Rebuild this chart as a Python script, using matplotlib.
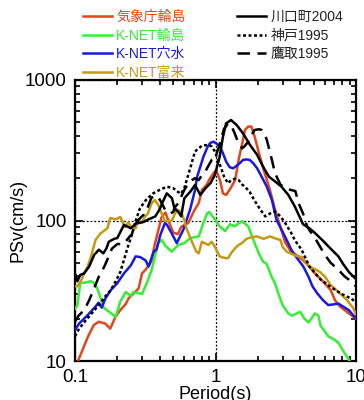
import matplotlib
matplotlib.use("Agg")
import matplotlib.pyplot as plt
from matplotlib.ticker import LogLocator, FuncFormatter, NullFormatter

plt.rcParams['font.family'] = ['Liberation Sans', 'Noto Sans CJK JP', 'DejaVu Sans']

# ---- data (period in s, PSv in cm/s) ----
T_jma = [0.105, 0.124, 0.136, 0.147, 0.164, 0.178, 0.194, 0.21, 0.23, 0.241,
         0.26, 0.284, 0.3, 0.32, 0.35, 0.37, 0.414, 0.44, 0.46, 0.5,
         0.54, 0.57, 0.64, 0.7, 0.76, 0.8, 0.86, 0.91, 0.97, 1.01,
         1.076, 1.13, 1.19, 1.26, 1.38, 1.46, 1.55, 1.62, 1.71, 1.8,
         1.9, 2.04, 2.2, 2.44, 2.65, 2.9, 3.13, 3.45, 3.75, 4.22,
         4.66, 5.1, 5.8, 6.6, 7.1, 7.7, 8.6, 10.0]
V_jma = [10, 15, 18, 19, 18.5, 17, 20.6, 23, 25.5, 28,
         30, 33, 42, 45, 51, 68, 106, 114, 101, 82,
         80, 90, 96, 116, 133, 165, 178, 198, 217, 229,
         194, 156, 152, 165, 194, 270, 354, 441, 466, 466,
         395, 301, 230, 165, 120, 90, 70, 60, 57, 52,
         47, 42, 37, 32, 27, 24.4, 22.4, 20]

T_knet_wajima = [0.1, 0.104, 0.109, 0.116, 0.13, 0.136, 0.144, 0.16, 0.174, 0.195,
                 0.21, 0.23, 0.25, 0.26, 0.3, 0.325, 0.35, 0.37, 0.39, 0.414,
                 0.44, 0.488, 0.544, 0.6, 0.66, 0.76, 0.82, 0.87, 0.9, 0.99,
                 1.07, 1.17, 1.27, 1.37, 1.54, 1.71, 1.9, 2.04, 2.18, 2.32,
                 2.5, 2.65, 2.8, 3.0, 3.3, 3.5, 4.0, 4.3, 4.6, 5.1,
                 5.4, 5.6, 6.35, 7.0, 7.5, 8.1, 8.7, 9.0]
V_knet_wajima = [23.5, 25, 36, 36, 37, 36, 33, 24, 22.5, 20.6,
                 26.5, 31, 29, 31, 30, 36, 44, 55, 68.6, 72.7,
                 66, 60, 67, 69, 75, 77, 96, 112, 115, 102,
                 91, 84, 94, 91, 99, 91, 69, 58, 51, 49,
                 40, 35.8, 30.3, 25, 21.8, 21, 22.4, 20, 18.8, 21.8,
                 21, 17.8, 15, 14.2, 13.5, 11.8, 10.6, 10]

T_anamizu = [0.1, 0.107, 0.116, 0.122, 0.14, 0.147, 0.155, 0.165, 0.18, 0.2,
             0.223, 0.25, 0.27, 0.29, 0.318, 0.334, 0.363, 0.38, 0.405, 0.437,
             0.452, 0.488, 0.53, 0.59, 0.66, 0.715, 0.74, 0.78, 0.82, 0.88,
             0.92, 0.97, 1.01, 1.076, 1.13, 1.19, 1.26, 1.33, 1.415, 1.5,
             1.57, 1.66, 1.75, 1.86, 1.98, 2.13, 2.32, 2.52, 2.72, 2.95,
             3.21, 3.47, 3.75, 4.22, 4.58, 4.9, 5.3, 5.8, 6.35, 6.9,
             7.5, 8.1, 8.9, 9.8]
V_anamizu = [16.6, 18.5, 20, 21, 24.4, 26, 24, 28, 32, 35.8,
             42, 48, 55.5, 55, 52, 47, 60, 62, 79, 96,
             93, 81, 69, 86, 120, 165, 205, 242, 284, 336,
             357, 364, 354, 336, 301, 263, 240, 235, 245, 258,
             270, 272, 270, 255, 235, 205, 174, 140, 101, 86,
             72.7, 61.7, 55, 47, 40, 34, 30.3, 27.2, 25, 25.3,
             25.6, 24.4, 23, 20.5]

T_togi = [0.1, 0.104, 0.111, 0.116, 0.123, 0.129, 0.14, 0.152, 0.17, 0.178,
          0.195, 0.21, 0.227, 0.24, 0.25, 0.27, 0.28, 0.3, 0.315, 0.33,
          0.35, 0.37, 0.39, 0.414, 0.437, 0.46, 0.49, 0.53, 0.57, 0.6,
          0.62, 0.68, 0.73, 0.76, 0.8, 0.89, 0.94, 0.99, 1.07, 1.17,
          1.23, 1.29, 1.37, 1.46, 1.54, 1.66, 1.8, 1.98, 2.2, 2.44,
          2.72, 2.9, 3.0, 3.21, 3.47, 3.75, 4.1, 4.45, 4.66, 5.1,
          5.54, 6.0, 6.55, 7.0, 7.9, 8.6, 9.5, 10.0]
V_togi = [34, 34, 37.7, 42, 47, 54, 72.7, 81, 88, 104,
          102, 106, 90, 97, 90, 88, 100, 96, 107, 112,
          132, 140, 130, 112, 99, 99, 100, 120, 115, 100,
          88, 70.6, 60, 58.4, 70.6, 67, 70.6, 65, 55.5, 54,
          54, 58.4, 63, 67, 69, 74, 76, 77, 74, 77,
          74, 72.7, 65, 60, 58, 56, 55, 50, 47, 45,
          43, 40, 35, 33, 29.5, 27.2, 24, 21.5]

T_kawaguchi = [0.1, 0.104, 0.109, 0.116, 0.126, 0.137, 0.148, 0.159, 0.167, 0.174,
               0.19, 0.2, 0.223, 0.25, 0.27, 0.285, 0.31, 0.334, 0.35, 0.373,
               0.4, 0.416, 0.45, 0.49, 0.51, 0.54, 0.57, 0.6, 0.66, 0.715,
               0.78, 0.85, 0.92, 0.99, 1.07, 1.13, 1.19, 1.29, 1.415, 1.57,
               1.76, 1.98, 2.18, 2.4, 2.65, 2.95, 3.3, 3.68, 4.2, 4.66,
               5.0, 5.8, 6.6, 7.5, 8.1, 8.9, 9.8, 10.0]
V_kawaguchi = [42, 37, 41, 42, 47, 57, 62, 58.4, 63, 70.6,
               74, 75, 93, 88, 95, 96, 98, 102, 104, 107,
               120, 132, 156, 144, 122, 116, 107, 144, 160, 179,
               152, 170, 184, 211, 284, 395, 491, 519, 478, 417,
               345, 293, 242, 205, 190, 174, 152, 125, 94, 88,
               83, 72, 63, 55.5, 49, 43, 39, 38.5]

T_kobe = [0.1, 0.107, 0.122, 0.135, 0.152, 0.165, 0.18, 0.195, 0.21, 0.22,
          0.236, 0.256, 0.27, 0.29, 0.32, 0.36, 0.4, 0.45, 0.5, 0.54,
          0.57, 0.6, 0.62, 0.66, 0.715, 0.76, 0.8, 0.86, 0.9, 0.94,
          0.99, 1.04, 1.1, 1.15, 1.23, 1.29, 1.37, 1.46, 1.55, 1.62,
          1.75, 1.9, 2.08, 2.26, 2.44, 2.65, 2.9, 3.13, 3.45, 3.68,
          4.1, 4.66, 5.6, 6.5, 7.5, 8.4, 9.2, 10.0]
V_kobe = [15, 17, 20, 22.5, 26, 29, 32, 37, 43, 50,
          63.5, 81, 99, 122, 140, 156, 165, 174, 170, 160,
          155, 170, 190, 235, 310, 326, 341, 344, 344, 336,
          310, 270, 235, 205, 184, 194, 198, 194, 180, 174,
          160, 138, 120, 107, 112, 116, 107, 96, 82, 72,
          62, 47, 38, 34, 31, 29, 28, 26]

T_takatori = [0.1, 0.106, 0.116, 0.126, 0.137, 0.148, 0.16, 0.169, 0.183, 0.2,
              0.222, 0.24, 0.254, 0.262, 0.28, 0.308, 0.33, 0.35, 0.37, 0.39,
              0.414, 0.44, 0.475, 0.5, 0.51, 0.544, 0.57, 0.6, 0.64, 0.68,
              0.715, 0.76, 0.8, 0.86, 0.9, 0.94, 0.99, 1.04, 1.1, 1.15,
              1.23, 1.29, 1.37, 1.46, 1.55, 1.62, 1.71, 1.8, 1.9, 2.04,
              2.13, 2.26, 2.32, 2.52, 2.65, 2.9, 3.2, 3.7, 3.9, 4.2,
              4.5, 5.2, 6.0, 6.6, 7.5, 8.3, 9.2, 10.0]
V_takatori = [19, 21, 23, 27, 33, 40, 46, 52, 63, 68,
              68, 75, 80, 88, 100, 110, 125, 145, 150, 148,
              133, 118, 112, 115, 123, 133, 148, 165, 184, 194,
              200, 194, 210, 230, 250, 270, 278, 318, 384, 450,
              490, 478, 417, 354, 326, 340, 364, 406, 441, 446,
              441, 400, 374, 270, 217, 180, 168, 162, 133, 112,
              90, 72.7, 57, 50, 44.5, 40, 37, 34]

labels_left = ['気象庁輪島', 'K-NET輪島', 'K-NET穴水', 'K-NET富来']
labels_right = ['川口町2004', '神戸1995', '鷹取1995']
colors_left = ['#e2461c', '#33ee33', '#1818e0', '#c49a14']

xticks = [0.1, 1, 10]
yticks = [10, 100, 1000]

# ---- figure ----
fig = plt.figure(figsize=(3.64, 4.0), dpi=100)
ax = fig.add_axes([75 / 364, 39 / 400, 281 / 364, 281 / 400])
ax.set_xscale('log')
ax.set_yscale('log')
ax.set_xlim(0.1, 10)
ax.set_ylim(10, 1000)

lw = 1.8
series_left = [(T_jma, V_jma), (T_knet_wajima, V_knet_wajima),
               (T_anamizu, V_anamizu), (T_togi, V_togi)]
handles_left = []
for (t, v), c, lab in zip(series_left, colors_left, labels_left):
    h, = ax.plot(t, v, color=c, lw=lw, label=lab, zorder=3)
    handles_left.append(h)

styles_right = ['-', (0, (1.2, 1.0)), (0, (5, 3))]
series_right = [(T_kawaguchi, V_kawaguchi), (T_kobe, V_kobe), (T_takatori, V_takatori)]
handles_right = []
for (t, v), ls, lab in zip(series_right, styles_right, labels_right):
    h, = ax.plot(t, v, color='black', lw=lw, ls=ls, label=lab, zorder=4)
    handles_right.append(h)

ax.grid(True, which='major', ls=(0, (1.5, 1.5)), color='black', lw=0.9)
ax.set_xticks(xticks)
ax.set_yticks(yticks)
fmt = FuncFormatter(lambda v, p: f'{v:g}')
ax.xaxis.set_major_formatter(fmt)
ax.yaxis.set_major_formatter(fmt)
ax.xaxis.set_minor_locator(LogLocator(base=10, subs=range(2, 10)))
ax.yaxis.set_minor_locator(LogLocator(base=10, subs=range(2, 10)))
ax.xaxis.set_minor_formatter(NullFormatter())
ax.yaxis.set_minor_formatter(NullFormatter())
ax.tick_params(which='both', direction='in', top=True, right=True,
               labelsize=13.5, width=1.2)
ax.tick_params(which='major', length=6, pad=6)
ax.tick_params(which='minor', length=3.5)
for s in ax.spines.values():
    s.set_linewidth(1.6)

ax.set_xlabel('Period(s)', fontsize=13, labelpad=0)
ax.set_ylabel('PSv(cm/s)', fontsize=13, labelpad=-1.5)

leg_kw = dict(loc='upper left', frameon=False, fontsize=10, handlelength=2.1,
              handletextpad=0.3, labelspacing=0.33, borderpad=0, borderaxespad=0)
leg1 = fig.legend(handles=handles_left, bbox_to_anchor=(83 / 364, 1 - 10 / 400),
                  labelcolor='linecolor', **leg_kw)
leg2 = fig.legend(handles=handles_right, bbox_to_anchor=(237 / 364, 1 - 10 / 400),
                  **leg_kw)
for t in leg2.get_texts():
    t.set_color('#222222')

fig.savefig('out.png', dpi=100)
